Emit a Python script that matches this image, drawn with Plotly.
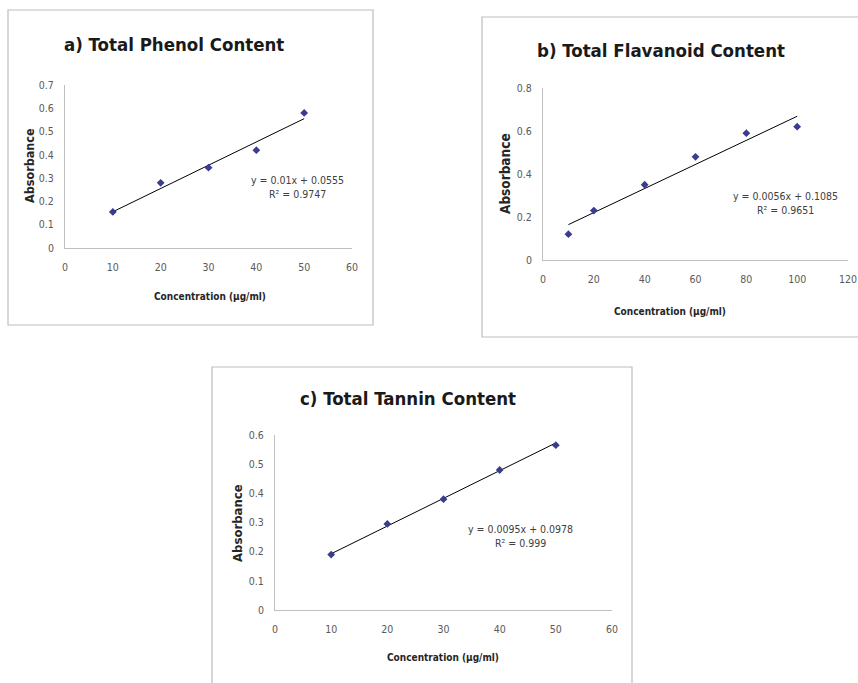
import plotly.graph_objects as go
import numpy as np

# ---------------- data ----------------
phenol_conc = [10, 20, 30, 40, 50]
phenol_abs = [0.155, 0.28, 0.345, 0.42, 0.58]
phenol_slope, phenol_intercept = 0.01, 0.0555
phenol_eq = "y = 0.01x + 0.0555"
phenol_r2 = "R² = 0.9747"

flav_conc = [10, 20, 40, 60, 80, 100]
flav_abs = [0.12, 0.23, 0.35, 0.48, 0.59, 0.62]
flav_slope, flav_intercept = 0.0056, 0.1085
flav_eq = "y = 0.0056x + 0.1085"
flav_r2 = "R² = 0.9651"

tannin_conc = [10, 20, 30, 40, 50]
tannin_abs = [0.19, 0.295, 0.38, 0.48, 0.565]
tannin_slope, tannin_intercept = 0.0095, 0.0978
tannin_eq = "y = 0.0095x + 0.0978"
tannin_r2 = "R² = 0.999"

titles = ["a) Total Phenol Content", "b) Total Flavanoid Content", "c) Total Tannin Content"]
x_title = "Concentration (µg/ml)"
y_title = "Absorbance"

W, H = 858, 683
NARROW = "Liberation Sans Narrow, Arial Narrow, DejaVu Sans Condensed, sans-serif"
MARK = "#3b3b8f"
TICKC = "#595959"

def px(x):
    return x / W

def py(y):
    return 1 - y / H

fig = go.Figure()

panels = [
    dict(xs=phenol_conc, ys=phenol_abs, m=phenol_slope, b=phenol_intercept, eq=phenol_eq, r2=phenol_r2,
         title=titles[0], xax="x", yax="y", xdom=(65, 352), ydom=(85, 248), xr=60, xd=10, yr=0.7, yd=0.1,
         tpos=(174, 44), eqpos=(297, 177), ytp=(30, 166), xtp=(210, 297), ysz=12.5,
         box=(8, 10, 373, 325)),
    dict(xs=flav_conc, ys=flav_abs, m=flav_slope, b=flav_intercept, eq=flav_eq, r2=flav_r2,
         title=titles[1], xax="x2", yax="y2", xdom=(543, 848), ydom=(88, 260), xr=120, xd=20, yr=0.8, yd=0.2,
         tpos=(661, 50), eqpos=(785, 193), ytp=(505, 174), xtp=(670, 311), ysz=13.5,
         box=(482, 17, 870, 337)),
    dict(xs=tannin_conc, ys=tannin_abs, m=tannin_slope, b=tannin_intercept, eq=tannin_eq, r2=tannin_r2,
         title=titles[2], xax="x3", yax="y3", xdom=(275, 612), ydom=(435, 610), xr=60, xd=10, yr=0.6, yd=0.1,
         tpos=(408, 398), eqpos=(520, 526), ytp=(237, 523), xtp=(443, 657), ysz=13,
         box=(212, 367, 632, 700)),
]

for i, p in enumerate(panels):
    sfx = "" if i == 0 else str(i + 1)
    xs = np.array(p["xs"], dtype=float)
    xl = np.array([xs.min(), xs.max()])
    fig.add_trace(go.Scatter(x=list(xl), y=list(p["m"] * xl + p["b"]), mode="lines",
                             line=dict(color="#000000", width=1), xaxis=p["xax"], yaxis=p["yax"],
                             showlegend=False, hoverinfo="skip"))
    fig.add_trace(go.Scatter(x=p["xs"], y=p["ys"], mode="markers",
                             marker=dict(symbol="diamond", size=6, color=MARK),
                             xaxis=p["xax"], yaxis=p["yax"], showlegend=False))
    fig.update_layout(**{
        "xaxis" + sfx: dict(domain=[px(p["xdom"][0]), px(p["xdom"][1])], range=[0, p["xr"]],
                            dtick=p["xd"], tick0=0, showgrid=False, zeroline=False, showline=True,
                            linecolor="#bfbfbf", linewidth=1, ticks="outside", ticklen=9,
                            tickcolor="rgba(0,0,0,0)", anchor=p["yax"].replace("axis", ""),
                            automargin=False,
                            tickfont=dict(family=NARROW, size=10.5, color=TICKC), fixedrange=True),
        "yaxis" + sfx: dict(domain=[py(p["ydom"][1]), py(p["ydom"][0])], range=[0, p["yr"]],
                            dtick=p["yd"], tick0=0, showgrid=False, zeroline=False, showline=True,
                            linecolor="#bfbfbf", linewidth=1, ticks="outside", ticklen=8,
                            tickcolor="rgba(0,0,0,0)", anchor=p["xax"], automargin=False,
                            tickfont=dict(family=NARROW, size=10.5, color=TICKC), fixedrange=True),
    })
    x0, y0, x1, y1 = p["box"]
    fig.add_shape(type="rect", xref="paper", yref="paper", x0=px(x0), x1=px(x1), y0=py(y1), y1=py(y0),
                  line=dict(color="#bdbdbd", width=1.2), fillcolor="rgba(0,0,0,0)", layer="below")
    fig.add_annotation(x=px(p["tpos"][0]), y=py(p["tpos"][1]), xref="paper", yref="paper",
                       text="<b>" + p["title"] + "</b>", showarrow=False,
                       font=dict(family=NARROW, size=18.5, color="#1a1a1a"), xanchor="center", yanchor="middle")
    fig.add_annotation(x=px(p["eqpos"][0]), y=py(p["eqpos"][1] + 10), xref="paper", yref="paper",
                       text=p["eq"] + "<br>" + p["r2"], showarrow=False,
                       font=dict(family=NARROW, size=10.5, color="#404040"), xanchor="center", yanchor="middle",
                       align="center")
    fig.add_annotation(x=px(p["ytp"][0]), y=py(p["ytp"][1]), xref="paper", yref="paper",
                       text="<b>" + y_title + "</b>", showarrow=False, textangle=-90,
                       font=dict(family=NARROW, size=p["ysz"], color="#262626"), xanchor="center", yanchor="middle")
    fig.add_annotation(x=px(p["xtp"][0]), y=py(p["xtp"][1]), xref="paper", yref="paper",
                       text="<b>" + x_title + "</b>", showarrow=False,
                       font=dict(family=NARROW, size=10, color="#262626"), xanchor="center", yanchor="middle")

fig.update_layout(width=W, height=H,
                  margin=dict(l=0, r=0, t=0, b=0, pad=0, autoexpand=False),
                  paper_bgcolor="white", plot_bgcolor="white", showlegend=False)

fig.write_html("out.html", config={"displayModeBar": False},
               post_script="document.body.style.margin='0';document.body.style.overflow='hidden';")
